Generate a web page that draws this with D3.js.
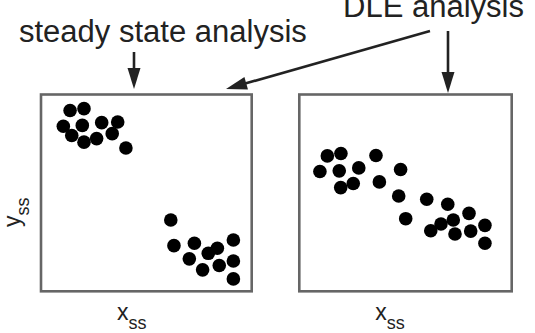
<!DOCTYPE html>
<html>
<head>
<meta charset="utf-8">
<script src="https://cdn.jsdelivr.net/npm/d3@7"></script>
<style>
  html, body { margin: 0; padding: 0; background: #fff; }
  svg { display: block; font-family: "Liberation Sans", Arial, Helvetica, sans-serif; }
</style>
</head>
<body>
<svg id="chart" width="535" height="333"></svg>
<script>
// Steady-state panel: two separated clusters (x, y in 0–100 units)
const steadyX = [13.8, 20.4, 10.6, 19.6, 28.8, 36.4, 14.6, 20.4, 26.4, 33.8, 40.3,
                 61.6, 63.1, 72.8, 70.4, 79.4, 83.7, 91.3, 76.7, 84.6, 91.3, 91.3];
const steadyY = [91.9, 92.8, 83.9, 84.3, 85.7, 86.0, 79.2, 75.8, 77.6, 80.1, 72.8,
                 36.2, 23.2, 24.4, 16.5, 19.3, 21.9, 26.1, 10.9, 13.1, 15.4, 6.3];

// DLE panel: a continuous band of points
const dleX = [13.2, 19.6, 9.7, 18.8, 28.0, 36.1, 19.5, 25.4, 37.7, 47.7, 46.8,
              60.0, 69.9, 50.1, 79.9, 72.5, 66.7, 61.9, 73.3, 80.7, 87.4, 87.4];
const dleY = [68.8, 70.0, 60.9, 61.2, 62.7, 69.0, 52.7, 54.8, 55.6, 61.9, 48.4,
              46.8, 44.2, 36.9, 39.6, 36.2, 34.2, 30.8, 29.1, 30.6, 33.5, 24.4];

const panelTitles = ["steady state analysis", "DLE analysis"];
const axisX = ["x", "ss"];
const axisY = ["y", "ss"];

const svg = d3.select("#chart");
const ink = "#222";
const frame = "#666";

const panels = [
  { xs: steadyX, ys: steadyY, left: 41, right: 251.7 },
  { xs: dleX, ys: dleY, left: 299.3, right: 511.7 }
];
const boxTop = 94.5, boxBottom = 291.3;

panels.forEach((p, i) => {
  const x = d3.scaleLinear().domain([0, 100]).range([p.left, p.right]);
  const y = d3.scaleLinear().domain([0, 100]).range([boxBottom, boxTop]);
  const g = svg.append("g");
  g.append("rect")
    .attr("x", x(0)).attr("y", y(100))
    .attr("width", x(100) - x(0)).attr("height", y(0) - y(100))
    .attr("fill", "none").attr("stroke", frame).attr("stroke-width", 2.6);
  g.selectAll("circle").data(d3.range(p.xs.length)).join("circle")
    .attr("cx", k => x(p.xs[k])).attr("cy", k => y(p.ys[k]))
    .attr("r", 6.8).attr("fill", "#000");

  // x-axis label with subscript
  const t = svg.append("text")
    .attr("x", x(0) + 76).attr("y", 319.5)
    .attr("fill", ink).attr("font-size", 23);
  t.append("tspan").text(axisX[0]);
  t.append("tspan").attr("dy", 9).attr("font-size", 18).text(axisX[1]);
});

// y-axis label (rotated) with subscript
const yl = svg.append("text")
  .attr("transform", "translate(19.5,227) rotate(-90)")
  .attr("fill", ink).attr("font-size", 23);
yl.append("tspan").text(axisY[0]);
yl.append("tspan").attr("dy", 9).attr("font-size", 18).text(axisY[1]);

// Titles
svg.append("text").attr("x", 19).attr("y", 41.5)
  .attr("fill", ink).attr("font-size", 31).text(panelTitles[0]);
svg.append("text").attr("x", 343).attr("y", 17)
  .attr("fill", ink).attr("font-size", 31).text(panelTitles[1]);

// Arrows from the titles down to the panels
function arrow(x1, y1, x2, y2) {
  const ang = Math.atan2(y2 - y1, x2 - x1);
  const len = 21, half = 6.5;
  const bx = x2 - len * Math.cos(ang), by = y2 - len * Math.sin(ang);
  svg.append("line")
    .attr("x1", x1).attr("y1", y1).attr("x2", bx + 2 * Math.cos(ang)).attr("y2", by + 2 * Math.sin(ang))
    .attr("stroke", ink).attr("stroke-width", 2.6);
  const px = -Math.sin(ang), py = Math.cos(ang);
  svg.append("path")
    .attr("d", d3.line()([
      [x2, y2],
      [bx + half * px, by + half * py],
      [bx - half * px, by - half * py]
    ]) + "Z")
    .attr("fill", ink);
}
arrow(134, 52, 134, 89);
arrow(430, 31, 226, 89);
arrow(448, 31, 448, 93);
</script>
</body>
</html>
